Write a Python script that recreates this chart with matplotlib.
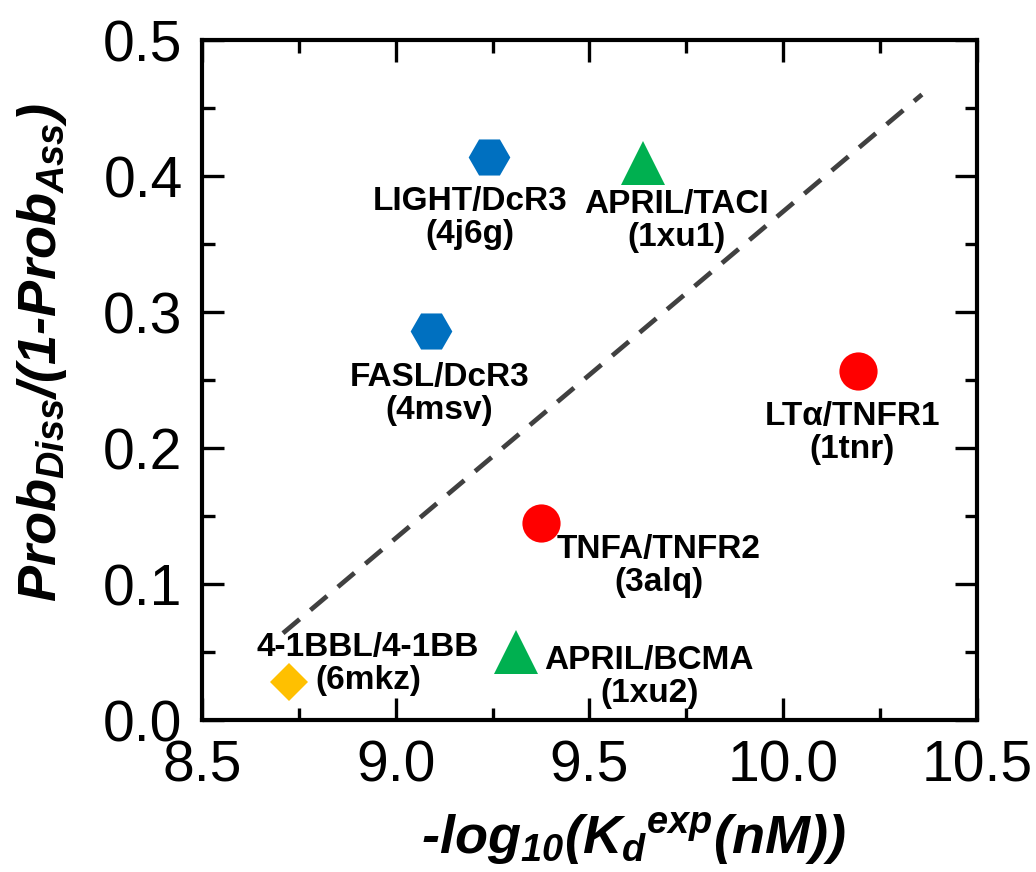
import matplotlib
matplotlib.use("Agg")
import matplotlib.pyplot as plt
from matplotlib.ticker import MultipleLocator, FormatStrFormatter

# complexes
names = ["LIGHT/DcR3\n(4j6g)", "APRIL/TACI\n(1xu1)", "FASL/DcR3\n(4msv)",
         "LT\u03b1/TNFR1\n(1tnr)", "TNFA/TNFR2\n(3alq)", "4-1BBL/4-1BB\n(6mkz)",
         "APRIL/BCMA\n(1xu2)"]
log_kd = [9.241, 9.638, 9.091, 10.193, 9.375, 8.724, 9.310]
prob_ratio = [0.414, 0.410, 0.286, 0.257, 0.145, 0.028, 0.050]
groups = ["hex", "tri", "hex", "circ", "circ", "dia", "tri"]

# fitted trend line end points
fit_x = [8.709, 10.358]
fit_y = [0.064, 0.460]

styles = {
    "hex": dict(marker="H", color="#0070C0", ms=30),
    "tri": dict(marker="^", color="#00B050", ms=32),
    "circ": dict(marker="o", color="#FF0000", ms=27.5),
    "dia": dict(marker="D", color="#FFC000", ms=19),
}
# label offsets (points) relative to each marker
offsets = [(-14, -44), (24, -42), (6, -45), (-4, -45), (85, -31), (57, 13), (96, -18)]

plt.rcParams["font.family"] = ["Liberation Sans", "DejaVu Sans"]
plt.rcParams["mathtext.fontset"] = "custom"
plt.rcParams["mathtext.it"] = "Liberation Sans:bold:italic"
plt.rcParams["mathtext.rm"] = "Liberation Sans:bold:italic"
plt.rcParams["mathtext.bf"] = "Liberation Sans:bold:italic"

fig = plt.figure(figsize=(10.36, 8.72), dpi=100)
ax = fig.add_subplot(111)
fig.subplots_adjust(left=0.195, right=0.943, top=0.954, bottom=0.174)

ax.plot(fit_x, fit_y, linestyle=(0, (4.6, 3.0)), color="#404040", lw=3.4, zorder=1)

for i in range(len(names)):
    st = styles[groups[i]]
    ax.plot(log_kd[i], prob_ratio[i], linestyle="none", marker=st["marker"],
            color=st["color"], ms=st["ms"], markeredgewidth=0, zorder=3)
    ax.annotate(names[i], (log_kd[i], prob_ratio[i]), xytext=offsets[i],
                textcoords="offset points", ha="center", va="center",
                multialignment="center", fontsize=24, fontweight="bold",
                linespacing=1.1, zorder=4)

ax.set_xlim(8.5, 10.5)
ax.set_ylim(0, 0.5)
ax.xaxis.set_major_locator(MultipleLocator(0.5))
ax.xaxis.set_minor_locator(MultipleLocator(0.25))
ax.yaxis.set_major_locator(MultipleLocator(0.1))
ax.yaxis.set_minor_locator(MultipleLocator(0.05))
ax.xaxis.set_major_formatter(FormatStrFormatter("%.1f"))
ax.yaxis.set_major_formatter(FormatStrFormatter("%.1f"))

for s in ax.spines.values():
    s.set_linewidth(3)
ax.tick_params(which="both", direction="in", top=True, right=True, width=2.4)
ax.tick_params(which="major", length=16, labelsize=41, pad=14)
ax.tick_params(which="minor", length=9)

ax.set_xlabel("-log$_{10}$($K_d{}^{exp}$(nM))", fontsize=39,
              fontweight="bold", fontstyle="italic")
ax.xaxis.set_label_coords(0.556, -0.135)
ax.set_ylabel("$Prob_{Diss}$/(1-$Prob_{Ass}$)", fontsize=39,
              fontweight="bold", fontstyle="italic")
ax.yaxis.set_label_coords(-0.172, 0.54)

fig.savefig("out.png", dpi=100)
